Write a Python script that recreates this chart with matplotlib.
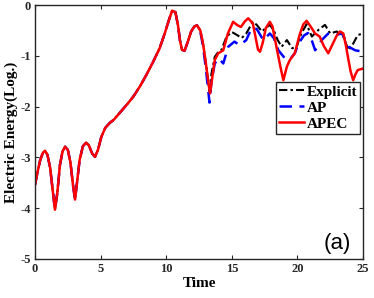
import matplotlib
matplotlib.use("Agg")
import matplotlib.pyplot as plt

# shared part of the three curves (t = 0 .. 12.35)
t_early = [0, 0.2, 0.4, 0.6, 0.76, 0.95, 1.15, 1.35, 1.52, 1.7, 1.9, 2.1, 2.29,
           2.5, 2.7, 2.9, 3.05, 3.2, 3.4, 3.65, 3.89, 4.1, 4.35, 4.57, 4.8, 5.05,
           5.35, 5.7, 6.0, 6.3, 6.7, 7.1, 7.5, 8.0, 8.5, 9.0, 9.5, 9.9, 10.2,
           10.45, 10.7, 10.9, 11.05, 11.2, 11.4, 11.65, 11.9, 12.15, 12.35]
e_early = [-3.54, -3.28, -3.05, -2.91, -2.87, -2.95, -3.2, -3.65, -4.03, -3.7,
           -3.15, -2.88, -2.79, -2.85, -3.1, -3.55, -3.83, -3.5, -3.05, -2.78,
           -2.71, -2.76, -2.92, -2.99, -2.85, -2.6, -2.42, -2.32, -2.26, -2.17,
           -2.05, -1.93, -1.8, -1.6, -1.37, -1.12, -0.85, -0.55, -0.3, -0.11,
           -0.14, -0.4, -0.7, -0.88, -0.9, -0.72, -0.52, -0.42, -0.4]

# Explicit
t_exp = [12.6, 12.8, 13.0, 13.15, 13.3, 13.45, 13.7, 13.95, 14.2, 14.6, 15.0,
         15.4, 15.75, 16.1, 16.6, 16.9, 17.3, 17.6, 17.9, 18.2, 18.5, 18.8,
         19.2, 19.6, 19.95, 20.2, 20.45, 20.7, 21.1, 21.6, 22.1, 22.5, 23.0,
         23.5, 23.9, 24.25, 24.6, 25.0]
e_exp = [-0.5, -0.75, -1.1, -1.4, -1.7, -1.35, -1.02, -0.93, -0.89, -0.62,
         -0.53, -0.59, -0.65, -0.56, -0.33, -0.39, -0.52, -0.45, -0.39, -0.5,
         -0.69, -0.82, -0.69, -0.85, -0.82, -0.62, -0.49, -0.38, -0.62, -0.49,
         -0.39, -0.56, -0.52, -0.62, -0.89, -0.76, -0.59, -0.56]

# AP
t_ap = [12.6, 12.8, 13.0, 13.15, 13.3, 13.45, 13.7, 14.0, 14.35, 14.73, 15.2,
        15.6, 16.1, 16.5, 16.9, 17.4, 17.9, 18.2, 18.55, 19.05, 19.4, 19.8,
        20.1, 20.5, 20.8, 21.0, 21.35, 21.85, 22.35, 22.9, 23.4, 23.9, 24.4,
        25.0]
e_ap = [-0.52, -0.8, -1.2, -1.55, -1.92, -1.5, -1.15, -1.05, -1.15, -0.82,
        -0.72, -0.79, -0.69, -0.46, -0.47, -0.69, -0.56, -0.65, -0.89, -1.05,
        -1.08, -0.95, -0.75, -0.6, -0.55, -0.62, -0.89, -0.69, -0.56, -0.59,
        -0.56, -0.82, -0.89, -0.92]

# APEC
t_apec = [12.6, 12.8, 13.0, 13.15, 13.34, 13.5, 13.7, 13.97, 14.35, 14.7, 15.1,
          15.45, 15.7, 16.0, 16.25, 16.6, 16.8, 17.0, 17.15, 17.35, 17.6, 17.9,
          18.1, 18.3, 18.5, 18.7, 18.93, 19.2, 19.43, 19.8, 20.0, 20.2, 20.45,
          20.7, 21.0, 21.35, 21.7, 22.0, 22.35, 22.7, 23.0, 23.25, 23.5, 23.7,
          23.85, 24.05, 24.25, 24.45, 24.6, 25.0]
e_apec = [-0.5, -0.75, -1.1, -1.4, -1.74, -1.45, -1.08, -0.95, -0.89, -0.56,
          -0.33, -0.4, -0.43, -0.32, -0.26, -0.36, -0.62, -0.88, -0.92, -0.75,
          -0.45, -0.33, -0.42, -0.69, -0.95, -1.21, -1.48, -1.21, -1.08, -0.95,
          -0.75, -0.56, -0.38, -0.31, -0.42, -0.56, -0.62, -0.8, -0.95, -0.76,
          -0.6, -0.52, -0.56, -0.8, -1.02, -1.3, -1.48, -1.35, -1.28, -1.25]

x_ticks = [0, 5, 10, 15, 20, 25]
y_ticks = [-5, -4, -3, -2, -1, 0]

serif = "Liberation Serif"

fig = plt.figure(figsize=(3.74, 2.98), dpi=100)
ax = fig.add_axes([0.0936, 0.131, 0.877, 0.852])

ax.plot(t_early + t_exp, e_early + e_exp, color="black", lw=1.5,
        dashes=(4, 1.5, 1.2, 1.5), label="Explicit")
ax.plot(t_early + t_ap, e_early + e_ap, color="blue", lw=1.8,
        dashes=(5, 3), label="AP")
ax.plot(t_early + t_apec, e_early + e_apec, color="red", lw=1.8, label="APEC")

ax.set_xlim(0, 25)
ax.set_ylim(-5, 0)
ax.set_xticks(x_ticks)
ax.set_yticks(y_ticks)
ax.set_xticklabels([str(v) for v in x_ticks], fontfamily=serif,
                   fontweight="bold", fontsize=9)
ax.set_yticklabels([str(v) for v in y_ticks], fontfamily=serif,
                   fontweight="bold", fontsize=9)
ax.tick_params(direction="in", top=True, right=True, length=3, width=0.8,
               pad=3, colors="#262626")
for sp in ax.spines.values():
    sp.set_linewidth(1.0)
    sp.set_color("#262626")

ax.set_xlabel("Time", fontfamily=serif, fontweight="bold", fontsize=11,
              labelpad=1)
ax.set_ylabel("Electric Energy(Log.)", fontfamily=serif, fontweight="bold",
              fontsize=11, labelpad=2)

leg = ax.legend(loc="upper right", bbox_to_anchor=(0.991, 0.697),
                prop={"family": serif, "weight": "bold", "size": 11},
                fancybox=False, edgecolor="#262626", framealpha=1,
                borderpad=0.2, labelspacing=0.15, handlelength=1.65,
                handletextpad=0.15, borderaxespad=0)
leg.get_frame().set_linewidth(1.0)

ax.text(0.963, 0.02, "(a)", transform=ax.transAxes, ha="right", va="bottom",
        fontfamily="Liberation Sans", fontsize=16)

fig.savefig("out.png", dpi=100)
